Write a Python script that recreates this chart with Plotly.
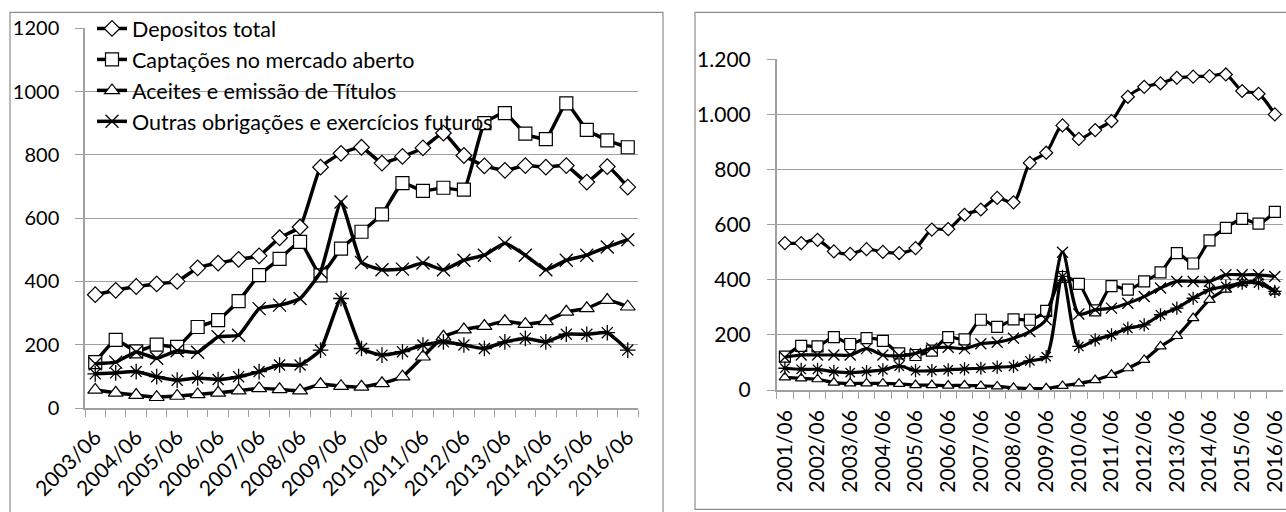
import plotly.graph_objects as go

W, H = 1286, 512

# ---------------- data: left panel (semiannual, 2003/06 - 2016/06) ----------------
left_periods = [
    "2003/06", "2003/12", "2004/06", "2004/12", "2005/06", "2005/12", "2006/06",
    "2006/12", "2007/06", "2007/12", "2008/06", "2008/12", "2009/06", "2009/12",
    "2010/06", "2010/12", "2011/06", "2011/12", "2012/06", "2012/12", "2013/06",
    "2013/12", "2014/06", "2014/12", "2015/06", "2015/12", "2016/06",
]
left_depositos = [358, 372, 384, 392, 400, 443, 458, 470, 481, 538, 572, 761, 805, 824,
                  774, 795, 822, 869, 798, 765, 751, 766, 761, 766, 714, 763, 698]
left_captacoes = [145, 215, 179, 200, 193, 256, 278, 338, 420, 471, 525, 419, 504, 557,
                  612, 711, 686, 696, 690, 900, 932, 867, 850, 963, 879, 846, 824]
left_aceites = [57, 48, 41, 34, 38, 43, 48, 55, 62, 59, 55, 75, 69, 67,
                78, 99, 162, 225, 248, 259, 274, 265, 274, 304, 315, 341, 320]
left_outras = [140, 145, 177, 157, 181, 176, 225, 230, 314, 325, 346, 430, 651, 460,
               437, 439, 458, 437, 467, 483, 521, 483, 437, 467, 483, 509, 532]
left_serie5 = [108, 111, 115, 99, 88, 95, 90, 99, 115, 136, 136, 183, 346, 188,
               167, 178, 199, 209, 199, 188, 209, 220, 209, 233, 233, 238, 183]

# ---------------- data: right panel (semiannual, 2001/06 - 2016/06) ----------------
right_periods = [
    "2001/06", "2001/12", "2002/06", "2002/12", "2003/06", "2003/12", "2004/06",
    "2004/12", "2005/06", "2005/12", "2006/06", "2006/12", "2007/06", "2007/12",
    "2008/06", "2008/12", "2009/06", "2009/12", "2010/06", "2010/12", "2011/06",
    "2011/12", "2012/06", "2012/12", "2013/06", "2013/12", "2014/06", "2014/12",
    "2015/06", "2015/12", "2016/06",
]
right_depositos = [533, 533, 545, 503, 494, 511, 501, 497, 515, 582, 584, 636, 655, 697,
                   681, 824, 861, 960, 911, 943, 976, 1064, 1100, 1113, 1133, 1137, 1139,
                   1145, 1085, 1075, 1000]
right_captacoes = [121, 160, 158, 192, 167, 188, 178, 133, 127, 143, 192, 184, 255, 229,
                   256, 255, 287, 410, 385, 289, 377, 364, 394, 427, 497, 459, 543, 588,
                   621, 604, 646]
right_outras = [119, 127, 127, 127, 127, 150, 127, 124, 133, 152, 155, 150, 168, 173,
                188, 212, 255, 500, 276, 291, 297, 315, 339, 370, 394, 394, 394, 418,
                418, 418, 412]
right_serie5 = [79, 75, 75, 67, 63, 67, 73, 87, 70, 70, 73, 77, 79, 83, 86, 106, 121,
                412, 158, 182, 200, 224, 236, 273, 297, 333, 364, 376, 388, 388, 358]
right_aceites = [46, 42, 39, 27, 24, 24, 24, 22, 18, 18, 16, 17, 15, 13, 8, 5, 6, 15,
                 24, 36, 55, 79, 109, 158, 196, 261, 327, 364, 388, 394, 357]

series_names = [
    "Depositos total",
    "Captações no mercado aberto",
    "Aceites e emissão de Títulos",
    "Outras obrigações e exercícios futuros",
    "Outros",
]

FONT = "Lato"
GRID = "#a0a0a0"
BORDER = "#8c8c8c"
INK = "#000000"


def px_x(v):
    return v / W


def px_y(v):
    return 1 - v / H


def marker_style(symbol, size):
    if symbol in ("x-thin", "asterisk"):
        return dict(symbol=symbol, size=size, color=INK, line=dict(color=INK, width=1.3))
    return dict(symbol=symbol, size=size, color="white", line=dict(color=INK, width=1.2))


symbols = ["diamond", "square", "triangle-up", "x-thin", "asterisk"]
left_sizes = [12, 13, 13, 13, 13]
right_sizes = [10, 11, 10, 11, 11]

fig = go.Figure()

left_series = [left_depositos, left_captacoes, left_aceites, left_outras, left_serie5]
for i, vals in enumerate(left_series):
    fig.add_trace(go.Scatter(
        x=left_periods, y=vals, name=series_names[i],
        mode="lines+markers",
        line=dict(color=INK, width=3.5, shape="spline", smoothing=0.4),
        marker=marker_style(symbols[i], left_sizes[i]),
        legendgroup=f"g{i}", showlegend=(i < 4),
        xaxis="x", yaxis="y",
    ))

right_series = [right_depositos, right_captacoes, right_aceites, right_outras, right_serie5]
for i, vals in enumerate(right_series):
    fig.add_trace(go.Scatter(
        x=right_periods, y=vals, name=series_names[i],
        mode="lines+markers",
        line=dict(color=INK, width=3.2, shape="spline", smoothing=0.8),
        marker=marker_style(symbols[i], right_sizes[i]),
        legendgroup=f"g{i}", showlegend=False,
        xaxis="x2", yaxis="y2",
    ))

left_ticktext = [p if k % 2 == 0 else "" for k, p in enumerate(left_periods)]
right_ticktext = [p if k % 2 == 0 else "" for k, p in enumerate(right_periods)]

common_x = dict(
    type="category", tickmode="array", tickson="boundaries",
    ticks="outside", ticklen=7, tickcolor=GRID, tickwidth=1,
    showline=True, linecolor=GRID, linewidth=1.5,
    showgrid=False, zeroline=False, fixedrange=True, automargin=False,
)
common_y = dict(
    range=[0, 1200], dtick=200, tick0=0,
    ticks="outside", ticklen=8, tickcolor=GRID, tickwidth=1,
    showline=True, linecolor=GRID, linewidth=1.5,
    showgrid=True, gridcolor=GRID, gridwidth=1.3,
    zeroline=False, fixedrange=True, automargin=False,
)

fig.update_layout(
    template="none",
    width=W, height=H,
    margin=dict(l=0, r=0, t=0, b=0, pad=0),
    paper_bgcolor="white", plot_bgcolor="white",
    separators=",.",
    showlegend=True,
    xaxis=dict(common_x, domain=[px_x(85), px_x(638)], anchor="y",
               range=[-0.5, len(left_periods) - 0.5],
               tickvals=left_periods, ticktext=left_ticktext, tickangle=-45,
               ticklabelstandoff=7,
               tickfont=dict(family=FONT, size=21, color=INK)),
    yaxis=dict(common_y, domain=[px_y(408), px_y(28.3)], anchor="x",
               tickformat="d", ticklabelstandoff=12,
               tickfont=dict(family=FONT, size=20, color=INK)),
    xaxis2=dict(common_x, domain=[px_x(776.7), px_x(1283)], anchor="y2",
                range=[-0.5, len(right_periods) - 0.5],
                tickvals=right_periods, ticktext=right_ticktext, tickangle=-90,
                ticklabelstandoff=10,
                tickfont=dict(family=FONT, size=21, color=INK)),
    yaxis2=dict(common_y, domain=[px_y(390), px_y(59.3)], anchor="x2",
                tickformat=",d", ticklabelstandoff=12,
                tickfont=dict(family=FONT, size=21, color=INK)),
    legend=dict(
        x=px_x(92), y=px_y(8), xanchor="left", yanchor="top",
        bgcolor="rgba(0,0,0,0)", borderwidth=0,
        font=dict(family=FONT, size=21.5, color=INK),
        tracegroupgap=0, itemclick=False, itemdoubleclick=False,
    ),
    shapes=[
        dict(type="rect", xref="paper", yref="paper",
             x0=px_x(10), x1=px_x(663), y0=px_y(514), y1=px_y(12.3),
             line=dict(color=BORDER, width=1.2), fillcolor="rgba(0,0,0,0)", layer="below"),
        dict(type="rect", xref="paper", yref="paper",
             x0=px_x(695), x1=px_x(1290), y0=px_y(509.3), y1=px_y(12.3),
             line=dict(color=BORDER, width=1.2), fillcolor="rgba(0,0,0,0)", layer="below"),
    ],
)

fig.write_html("out.html", config={"displayModeBar": False})
